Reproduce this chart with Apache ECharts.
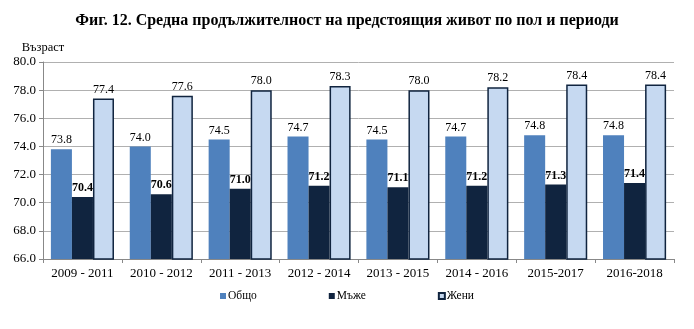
<!DOCTYPE html>
<html><head><meta charset="utf-8">
<script src="https://cdn.jsdelivr.net/npm/echarts@6/dist/echarts.min.js"></script>
<style>html,body{margin:0;padding:0;background:#fff}#c{width:694px;height:329px}</style>
</head><body><div id="c"></div>
<script>
const categories = ['2009 - 2011','2010 - 2012','2011 - 2013','2012 - 2014','2013 - 2015','2014 - 2016','2015-2017','2016-2018'];
const total = [73.8,74.0,74.5,74.7,74.5,74.7,74.8,74.8];
const men = [70.4,70.6,71.0,71.2,71.1,71.2,71.3,71.4];
const women = [77.4,77.6,78.0,78.3,78.0,78.2,78.4,78.4];
const seriesNames = ['Общо','Мъже','Жени'];
const F = 'Liberation Serif';
const chart = echarts.init(document.getElementById('c'));
const lbl = (bold) => ({show:true, position:'top', distance:3, fontFamily:F, fontSize:12, color:'#000', fontWeight: bold?'bold':'normal', formatter: p => p.value.toFixed(1)});
chart.setOption({
  animation:false,
  title:{text:'Фиг. 12. Средна продължителност на предстоящия живот по пол и периоди', left:'center', top:8, textStyle:{fontFamily:F, fontSize:16, fontWeight:'bold', color:'#000'}},
  grid:{left:43, right:20, top:62, bottom:70},
  legend:{bottom:22, left:'center', itemWidth:6, itemHeight:6, itemGap:72, icon:'rect', textStyle:{fontFamily:F, fontSize:11.5, color:'#000', padding:[0,0,0,-3]}, data:seriesNames},
  xAxis:{type:'category', data:categories, axisLine:{lineStyle:{color:'#888'}}, axisTick:{show:true, length:4, lineStyle:{color:'#888'}}, axisLabel:{interval:0, fontFamily:F, fontSize:13, color:'#000', margin:8}},
  yAxis:{type:'value', min:66, max:80, interval:2, name:'Възраст', nameLocation:'end', nameGap:8, nameTextStyle:{fontFamily:F, fontSize:12.5, color:'#000', align:'center'},
    axisLine:{show:true, lineStyle:{color:'#888'}}, axisTick:{show:true, length:4, lineStyle:{color:'#888'}},
    axisLabel:{fontFamily:F, fontSize:13, color:'#000', margin:7, formatter: v => v.toFixed(1)},
    splitLine:{lineStyle:{color:'#b0b0b0'}}},
  series:[
    {name:seriesNames[0], type:'bar', data:total, barGap:'0%', barCategoryGap:'20%', itemStyle:{color:'#4F81BD'}, label:lbl(false)},
    {name:seriesNames[1], type:'bar', data:men, itemStyle:{color:'#10243F'}, label:lbl(true)},
    {name:seriesNames[2], type:'bar', data:women, itemStyle:{color:'#C6D9F1', borderColor:'#10243F', borderWidth:1.5}, label:lbl(false)}
  ]
});
</script></body></html>
